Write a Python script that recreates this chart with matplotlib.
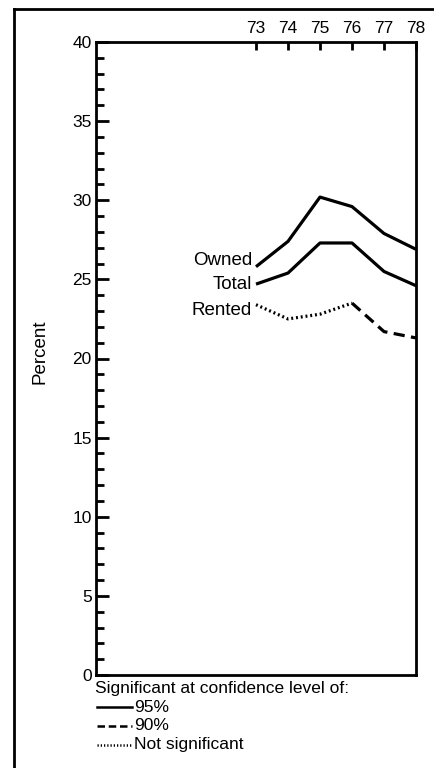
import matplotlib
matplotlib.use("Agg")
import matplotlib.pyplot as plt
from matplotlib.lines import Line2D

plt.rcParams['font.family'] = ['Liberation Sans', 'DejaVu Sans']

years = [73, 74, 75, 76, 77, 78]
owned = [25.8, 27.4, 30.2, 29.6, 27.9, 26.9]
total = [24.7, 25.4, 27.3, 27.3, 25.5, 24.6]
rented = [23.4, 22.5, 22.8, 23.5, 21.7, 21.3]
series_labels = ["Owned", "Total", "Rented"]
y_major = [0, 5, 10, 15, 20, 25, 30, 35, 40]
legend_labels = ["95%", "90%", "Not significant"]
legend_title = "Significant at confidence level of:"

fig = plt.figure(figsize=(4.34, 7.68), dpi=100)
ax = fig.add_axes([96/434, 1 - 675/768, (416 - 96)/434, (675 - 42)/768])

lw = 2.3
ax.plot(years, owned, color='black', lw=lw, solid_capstyle='butt')
ax.plot(years, total, color='black', lw=lw, solid_capstyle='butt')
ax.plot(years[:4], rented[:4], color='black', lw=lw, linestyle=(0, (0.6, 0.9)))
ax.plot(years[3:], rented[3:], color='black', lw=lw, linestyle=(0, (3.5, 2.0)))

# series labels at the start of each line (slightly spread to keep apart)
nudges = [6, 0, -6]  # pixel offsets
for lab, vals, dy in zip(series_labels, [owned, total, rented], nudges):
    ax.annotate(lab, (years[0] - 0.12, vals[0]), xytext=(0, dy * 0.72),
                textcoords='offset points', ha='right', va='center', fontsize=13.5)

ax.set_xlim(68, 78)
ax.set_ylim(0, 40)
ax.set_xticks(years)
ax.set_xticklabels([str(y) for y in years], fontsize=12.5)
ax.xaxis.tick_top()
ax.tick_params(axis='x', direction='in', length=6, width=2, pad=4)
ax.set_yticks(y_major)
ax.set_yticklabels([str(v) for v in y_major], fontsize=12.5)
ax.set_yticks(range(0, 41), minor=True)
ax.tick_params(axis='y', which='major', direction='in', length=9, width=2, pad=3)
ax.tick_params(axis='y', which='minor', direction='in', length=6, width=2)
for s in ax.spines.values():
    s.set_linewidth(2)
ax.set_ylabel("Percent", fontsize=13.5)
ax.yaxis.set_label_coords(-0.147, 0.51)

# outer frame lines (left and top)
fig.add_artist(Line2D([14/434, 14/434], [0, 1 - 9/768], color='black', lw=2, transform=fig.transFigure))
fig.add_artist(Line2D([14/434, 1], [1 - 9/768, 1 - 9/768], color='black', lw=2, transform=fig.transFigure))

# legend
fig.text(95/434, 1 - 688/768, legend_title, fontsize=12.5, va='center', ha='left')
styles = ['-', (0, (3.0, 1.5)), (0, (0.5, 0.8))]
ys = [707, 726, 745]
for lab, st, y in zip(legend_labels, styles, ys):
    yf = 1 - y/768
    fig.add_artist(Line2D([97/434, 132/434], [yf, yf], color='black', lw=1.8,
                          linestyle=st, transform=fig.transFigure))
    fig.text(134/434, yf, lab, fontsize=12.5, va='center', ha='left')

fig.savefig("out.png", dpi=100)
